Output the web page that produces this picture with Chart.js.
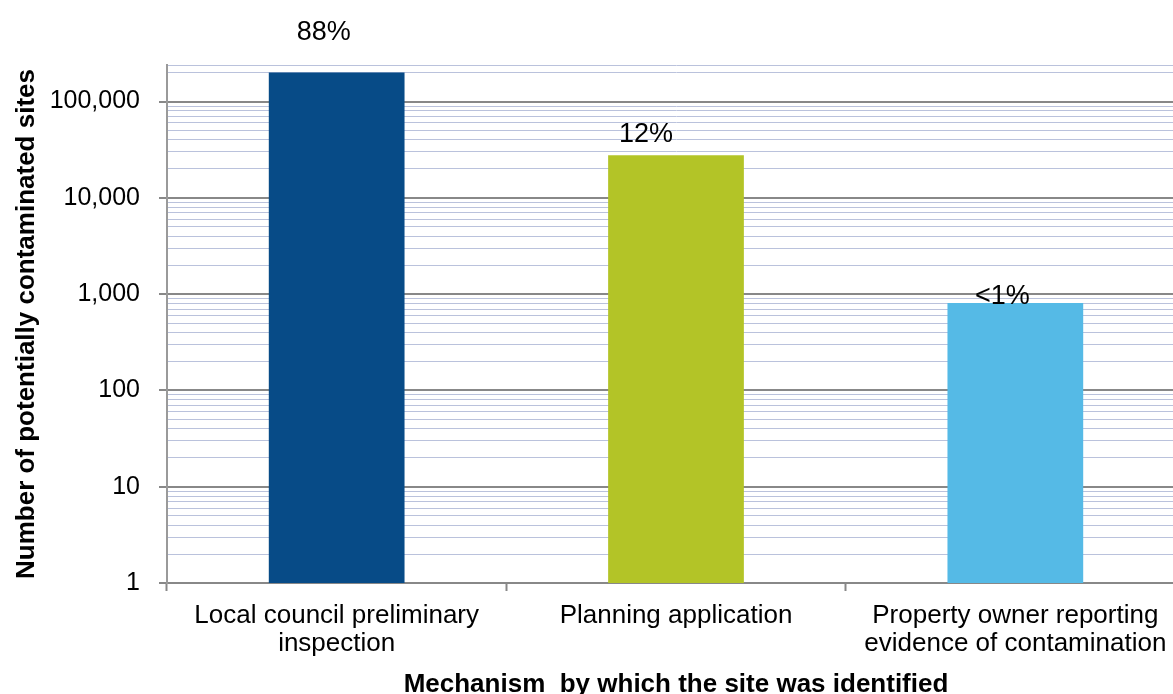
<!DOCTYPE html>
<html><head><meta charset="utf-8">
<script src="https://cdn.jsdelivr.net/npm/chart.js@4.4.1/dist/chart.umd.min.js"></script>
<style>
html,body{margin:0;padding:0;background:#fff;overflow:hidden;width:1173px;height:694px;}
#wrap{position:absolute;left:0;top:0;width:1200px;height:700px;}
</style></head><body>
<div id="wrap"><canvas id="c" width="1200" height="700"></canvas></div>
<script>
// ---- data ----
const categories = [["Local council preliminary","inspection"], "Planning application", ["Property owner reporting","evidence of contamination"]];
const siteCounts = [200000, 27700, 810];
const shareLabels = ["88%", "12%", "<1%"];
const yTickValues = [1, 10, 100, 1000, 10000, 100000];
const yMin = 1;
const yMax = 240000;
const barColors = ["#074b87", "#b3c427", "#55bae6"];
const xTitle = "Mechanism  by which the site was identified";
const yTitle = "Number of potentially contaminated sites";

// ---- style ----
const FONT = "'Liberation Sans', Arial, Helvetica, sans-serif";
const MAJOR = '#888888';
const MINOR = '#bac2dc';
const isMajor = v => yTickValues.includes(v);

const shareLabelPlugin = {
  id: 'shareLabels',
  afterDatasetsDraw(chart, args, opts) {
    const ctx = chart.ctx;
    const meta = chart.getDatasetMeta(0);
    ctx.save();
    ctx.font = opts.font;
    ctx.fillStyle = '#000';
    ctx.textAlign = 'center';
    ctx.textBaseline = 'middle';
    meta.data.forEach((bar, i) => {
      const o = opts.offsets[i];
      ctx.fillText(shareLabels[i], bar.x + o[0], bar.y + o[1]);
    });
    ctx.restore();
  }
};

new Chart(document.getElementById('c'), {
  type: 'bar',
  data: {
    labels: categories,
    datasets: [{
      data: siteCounts,
      backgroundColor: barColors,
      borderWidth: 0,
      barPercentage: 0.4,
      categoryPercentage: 1.0
    }]
  },
  plugins: [shareLabelPlugin],
  options: {
    responsive: false,
    animation: false,
    layout: { padding: { top: 65, right: 15, left: 0, bottom: 0 } },
    plugins: {
      legend: { display: false },
      tooltip: { enabled: false },
      shareLabels: {
        font: "27px " + FONT,
        offsets: [[-13, -40], [-30, -21], [-13, -6]]
      }
    },
    scales: {
      x: {
        offset: true,
        afterFit(scale) { scale.height = 117; },
        grid: { display: true, drawOnChartArea: false, offset: true, tickLength: 8, tickColor: MAJOR, tickWidth: 2 },
        border: { display: true, color: MAJOR, width: 2 },
        ticks: { color: '#000', padding: 11, maxRotation: 0, autoSkip: false, font: { family: FONT, size: 26, lineHeight: 1.077 } },
        title: { display: true, text: xTitle, color: '#000', font: { family: FONT, size: 26, weight: 'bold', lineHeight: 1.2 }, padding: { top: 11, bottom: 0 } }
      },
      y: {
        type: 'logarithmic',
        min: yMin,
        max: yMax,
        afterFit(scale) { scale.width = 167; },
        afterBuildTicks(scale) {
          const t = [];
          for (let p = 1; p <= yMax; p *= 10) {
            for (let m = 1; m < 10; m++) {
              const v = m * p;
              if (v <= yMax) t.push({ value: v });
            }
          }
          if (t[t.length - 1].value !== yMax) t.push({ value: yMax });
          scale.ticks = t;
        },
        ticks: {
          autoSkip: false,
          padding: 19,
          color: '#000',
          font: { family: FONT, size: 25 },
          callback: (v) => isMajor(v) ? Number(v).toLocaleString('en-US') : ''
        },
        grid: {
          color: c => (c.tick && isMajor(c.tick.value)) ? MAJOR : MINOR,
          lineWidth: c => (c.tick && isMajor(c.tick.value)) ? 2 : 1,
          tickColor: c => (c.tick && isMajor(c.tick.value)) ? MAJOR : 'rgba(0,0,0,0)',
          tickLength: 8,
          tickWidth: 2
        },
        border: { display: true, color: '#9a9a9a', width: 2 },
        title: { display: true, text: yTitle, color: '#000', font: { family: FONT, size: 26, weight: 'bold', lineHeight: 1.2 }, padding: { top: 11, bottom: 7 } }
      }
    }
  }
});
</script>
</body></html>
